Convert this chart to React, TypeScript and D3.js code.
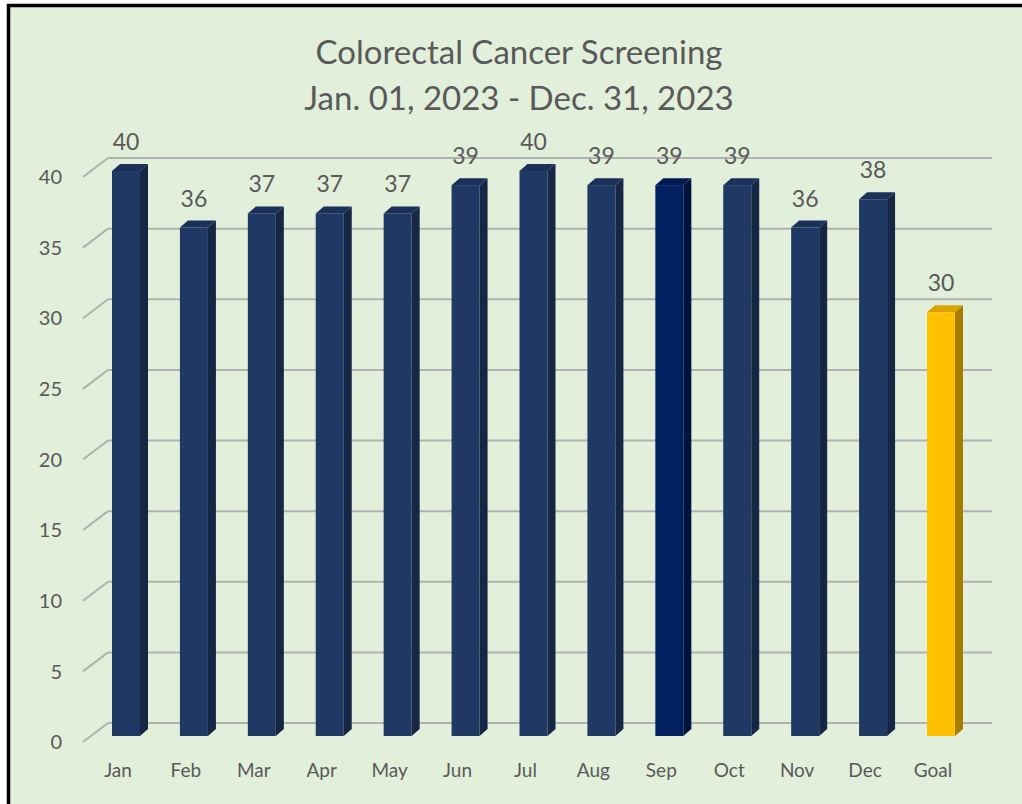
import React from 'react';
import * as d3 from 'd3';

const months = ['Jan', 'Feb', 'Mar', 'Apr', 'May', 'Jun', 'Jul', 'Aug', 'Sep', 'Oct', 'Nov', 'Dec', 'Goal'];
const screenings = [40, 36, 37, 37, 37, 39, 40, 39, 39, 39, 36, 38, 30];
const yTicks = [0, 5, 10, 15, 20, 25, 30, 35, 40];
const titleLines = ['Colorectal Cancer Screening', 'Jan. 01, 2023 - Dec. 31, 2023'];

const FONT = 'Lato, "Open Sans", sans-serif';
const TEXT = '#595959';

const App: React.FC = () => {
  const width = 1022;
  const height = 804;

  // bar front faces
  const y = d3.scaleLinear().domain([0, 40]).range([736, 171]);
  const x = d3.scalePoint<string>().domain(months).range([126, 941]);
  const barW = 28;
  const dx = 8;
  const dy = 7;

  // back wall / floor geometry
  const wallLeft = 108;
  const wallRight = 992;
  const frontLeft = 83;
  const wallY = (v: number) => y(v) - 13;
  const frontY = (v: number) => y(v) + 6;

  const colorsFor = (m: string) => {
    if (m === 'Goal') return { front: '#ffc000', top: '#d9a400', side: '#a67d00' };
    if (m === 'Sep') return { front: '#002060', top: '#001b52', side: '#00143d' };
    return { front: '#1f3864', top: '#1b3159', side: '#152744' };
  };

  return (
    <svg
      width={width}
      height={height}
      style={{ position: 'fixed', left: 0, top: 0, background: '#ffffff' }}
    >
      <rect x={8.5} y={5.5} width={1030} height={830} fill="#e2efda" stroke="#000" strokeWidth={3.5} />

      {titleLines.map((t, i) => (
        <text
          key={t}
          x={519}
          y={64 + i * 46}
          textAnchor="middle"
          fontFamily={FONT}
          fontSize={33}
          fill={TEXT}
        >
          {t}
        </text>
      ))}

      {/* gridlines on the back wall with short floor diagonals */}
      {yTicks.map(v => (
        <g key={v}>
          <line x1={wallLeft} x2={wallRight} y1={wallY(v)} y2={wallY(v)} stroke="#b0b2ae" strokeWidth={2} />
          <line x1={frontLeft} y1={frontY(v)} x2={wallLeft} y2={wallY(v)} stroke="#b0b2ae" strokeWidth={2} />
          <text
            x={62}
            y={frontY(v)}
            dy="0.36em"
            textAnchor="end"
            fontFamily={FONT}
            fontSize={20}
            fill={TEXT}
          >
            {v}
          </text>
        </g>
      ))}

      {/* 3D columns */}
      {months.map((m, i) => {
        const v = screenings[i];
        const c = colorsFor(m);
        const x0 = x(m)! - barW / 2;
        const x1 = x0 + barW;
        const yt = y(v);
        const yb = y(0);
        return (
          <g key={m}>
            <polygon
              points={`${x1},${yt} ${x1 + dx},${yt - dy} ${x1 + dx},${yb - dy} ${x1},${yb}`}
              fill={c.side}
            />
            <polygon
              points={`${x0},${yt} ${x1},${yt} ${x1 + dx},${yt - dy} ${x0 + dx},${yt - dy}`}
              fill={c.top}
            />
            <rect x={x0} y={yt} width={barW} height={yb - yt} fill={c.front} />
            <text
              x={x(m)!}
              y={yt - dy - 14}
              textAnchor="middle"
              fontFamily={FONT}
              fontSize={23}
              fill={TEXT}
            >
              {v}
            </text>
            <text
              x={x(m)! - 8}
              y={777}
              textAnchor="middle"
              fontFamily={FONT}
              fontSize={19}
              fill={TEXT}
            >
              {m}
            </text>
          </g>
        );
      })}
    </svg>
  );
};

export default App;
